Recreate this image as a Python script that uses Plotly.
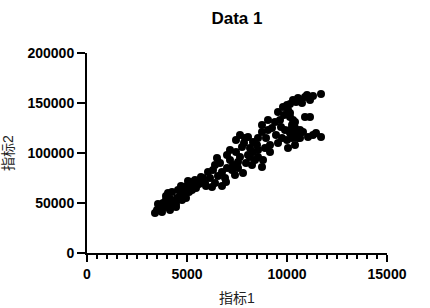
import plotly.graph_objects as go

x_vals = [3400, 3500, 3600, 3700, 3800, 3900, 3950, 4050, 4150, 4250, 4350, 4450, 3750, 3550, 3950,
          4150, 4500, 4650, 4800, 4900, 5000, 5150, 5300, 5400, 4750, 4950, 5100, 5250, 5450, 5600,
          5650, 5800, 5900, 4550, 4700, 5050, 4450, 4050, 4250,
          5700, 6050, 6150, 6250, 6400, 6500, 6750, 6900, 7000, 7000, 7150, 7300, 7400, 7550, 7750,
          7800, 7900, 8050, 8250, 8300, 8400, 8550, 8750, 6550, 6300, 6650, 7150, 7450, 7650, 7950,
          7250, 7550, 8150, 7850, 6950, 6400, 6750, 5950, 7450, 7650,
          8050, 8150, 8300, 8500, 8550, 8750, 8750, 8800, 8900, 9050, 9150, 9400, 9550, 9550, 10050,
          10150, 10150, 10250, 10400, 10400, 10500, 10650, 10050, 8950, 9250, 9650, 9850, 9150, 8550,
          9750, 9900, 9450, 9050, 9700,
          9800, 10000, 10150, 10300, 10550, 10900, 11000, 11300, 11700, 11150, 10900, 10300, 10250,
          10400, 10650, 10800, 11300, 10300, 10550, 10000, 10150, 11700, 10650, 10450, 11150, 10750,
          11450, 11050, 10150]
y_vals = [40000, 43000, 47000, 45000, 50000, 46000, 53000, 49000, 43000, 48000, 52000, 46000, 41000, 49000, 57000,
          54000, 55000, 57000, 60000, 63000, 67000, 68000, 71000, 73000, 53000, 55000, 61000, 63000, 65000, 69000,
          73000, 75000, 70000, 63000, 67000, 72000, 49000, 60000, 61000,
          76000, 81000, 75000, 66000, 88000, 95000, 81000, 75000, 85000, 98000, 103000, 88000, 78000, 91000, 106000,
          80000, 115000, 98000, 88000, 111000, 93000, 103000, 86000, 77000, 83000, 90000, 93000, 101000, 96000, 90000,
          83000, 85000, 105000, 110000, 71000, 70000, 67000, 67000, 113000, 118000,
          116000, 96000, 101000, 108000, 96000, 128000, 121000, 93000, 105000, 123000, 108000, 131000, 141000, 110000, 143000,
          136000, 123000, 115000, 131000, 108000, 120000, 115000, 105000, 115000, 125000, 133000, 138000, 101000, 115000,
          115000, 123000, 118000, 133000, 126000,
          146000, 148000, 149000, 153000, 155000, 156000, 158000, 157000, 159000, 136000, 136000, 133000, 128000,
          125000, 123000, 121000, 118000, 118000, 115000, 113000, 120000, 116000, 152000, 151000, 153000, 150000,
          120000, 116000, 140000]

title_text = "Data 1"
x_title = "指标1"
y_title = "指标2"
x_ticks = [0, 5000, 10000, 15000]
y_ticks = [0, 50000, 100000, 150000, 200000]

FONT = "Arial, 'Liberation Sans', 'Noto Sans CJK SC', sans-serif"

fig = go.Figure(go.Scatter(
    x=x_vals, y=y_vals, mode="markers",
    marker=dict(color="black", size=8, line=dict(width=0)),
    cliponaxis=False,
))

fig.update_layout(
    width=430, height=308,
    margin=dict(l=87, r=43, t=53, b=55),
    paper_bgcolor="white", plot_bgcolor="white",
    showlegend=False,
    font=dict(family=FONT, color="black"),
    title=dict(text="<b>" + title_text + "</b>", x=0.551, xanchor="center", y=0.94, yanchor="middle",
               font=dict(size=17, color="black", family=FONT)),
)

fig.update_xaxes(
    range=[0, 15000], tickvals=x_ticks, ticktext=[str(v) for v in x_ticks],
    automargin=False,
    showgrid=False, zeroline=False,
    showline=True, linecolor="black", linewidth=2,
    ticks="outside", ticklen=7, tickwidth=2, tickcolor="black",
    tickfont=dict(size=14, family=FONT, weight="bold", color="black"),
    minor=dict(dtick=500, ticks="outside", ticklen=4, tickwidth=1.5, tickcolor="black", showgrid=False),
    title=dict(text=x_title, font=dict(size=14, color="#222222", family=FONT), standoff=12),
)
fig.update_yaxes(
    range=[0, 200000], tickvals=y_ticks, ticktext=[str(v) for v in y_ticks],
    automargin=False,
    showgrid=False, zeroline=False,
    showline=True, linecolor="black", linewidth=2,
    ticks="outside", ticklen=8, tickwidth=2, tickcolor="black",
    tickfont=dict(size=14, family=FONT, weight="bold", color="black"),
    title=dict(text=y_title, font=dict(size=14, color="#222222", family=FONT), standoff=14),
)

fig.write_html("out.html")
